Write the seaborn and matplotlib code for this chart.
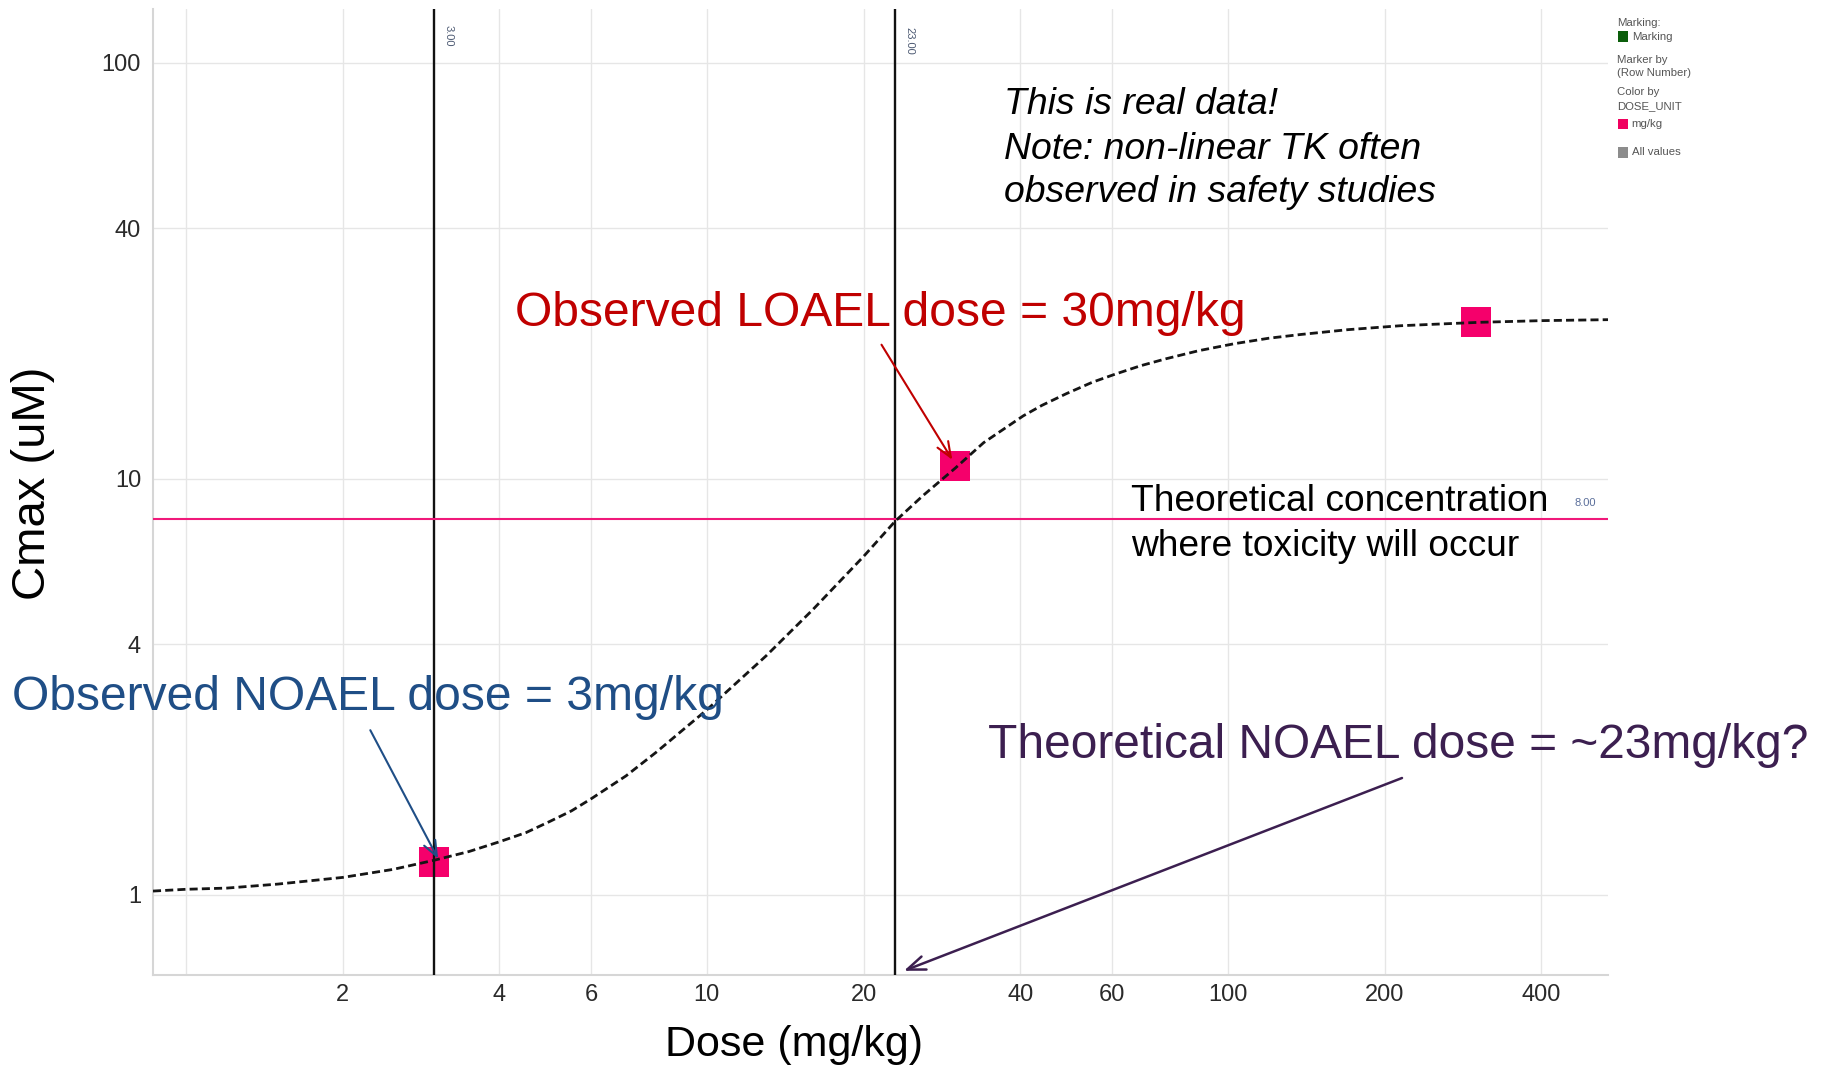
import matplotlib
matplotlib.use("Agg")
import matplotlib.pyplot as plt
from matplotlib.ticker import NullLocator, FixedLocator, FixedFormatter
from matplotlib.patches import Rectangle
import seaborn as sns
import pandas as pd

# ---------------- data ----------------
curve_dose = [0.865, 1.0, 1.2, 1.5, 2, 2.5, 3, 3.5, 4, 4.5, 5, 5.5, 6, 7, 8,
              10, 13, 16, 20, 23, 26, 30, 34, 40.5, 44, 49, 55, 61, 68, 76,
              88, 103, 120, 138, 170, 214, 250, 305, 400, 537]
curve_cmax = [1.02, 1.03, 1.037, 1.06, 1.10, 1.15, 1.21, 1.27, 1.34, 1.41,
              1.50, 1.59, 1.70, 1.93, 2.20, 2.78, 3.75, 4.85, 6.5, 7.9, 9.1,
              10.6, 12.2, 14.15, 15.0, 16.0, 17.05, 17.85, 18.67, 19.4,
              20.3, 21.1, 21.75, 22.2, 22.8, 23.3, 23.5, 23.75, 23.97, 24.1]

obs_dose = [3, 30, 300]
obs_cmax = [1.2, 10.7, 23.8]

ref_doses = [3, 23]
ref_labels = ["3.00", "23.00"]
tox_conc = 8
tox_label = "8.00"

x_ticks = [1, 2, 4, 6, 10, 20, 40, 60, 100, 200, 400]
x_tick_labels = ["", "2", "4", "6", "10", "20", "40", "60", "100", "200", "400"]
y_ticks = [1, 4, 10, 40, 100]
y_tick_labels = ["1", "4", "10", "40", "100"]

legend_lines = ["Marking:", "Marking", "Marker by", "(Row Number)",
                "Color by", "DOSE_UNIT", "mg/kg", "All values"]

# ---------------- style ----------------
sns.set_style("white")
plt.rcParams["font.family"] = ["Liberation Sans", "DejaVu Sans"]

W, H = 1826, 1068
fig = plt.figure(figsize=(W / 100, H / 100), dpi=100)
fig.patch.set_facecolor("white")


def fx(px):
    return px / W


def fy(py):
    return 1 - py / H


ax = fig.add_axes([fx(153), fy(975), (1608 - 153) / W, (975 - 9) / H])

curve_df = pd.DataFrame({"dose": curve_dose, "cmax": curve_cmax})
obs_df = pd.DataFrame({"dose": obs_dose, "cmax": obs_cmax})

sns.scatterplot(data=obs_df, x="dose", y="cmax", ax=ax, marker="s", s=440,
                color="#F5006B", edgecolor="#F5006B", linewidth=0, zorder=2.5,
                legend=False)
sns.lineplot(data=curve_df, x="dose", y="cmax", ax=ax, color="#151515",
             linewidth=2.0, linestyle=(0, (2.9, 1.5)), zorder=4, legend=False)

for d in ref_doses:
    ax.axvline(d, color="#111111", lw=1.7, zorder=3)
ax.axhline(tox_conc, color="#F0197A", lw=1.5, zorder=3)

ax.set_xscale("log")
ax.set_yscale("log")
ax.set_xlim(0.865, 537)
ax.set_ylim(0.641, 134.5)

ax.xaxis.set_major_locator(FixedLocator(x_ticks))
ax.xaxis.set_major_formatter(FixedFormatter(x_tick_labels))
ax.yaxis.set_major_locator(FixedLocator(y_ticks))
ax.yaxis.set_major_formatter(FixedFormatter(y_tick_labels))
ax.xaxis.set_minor_locator(NullLocator())
ax.yaxis.set_minor_locator(NullLocator())

ax.grid(True, which="major", color="#e6e6e6", lw=1.0)
ax.set_axisbelow(True)
ax.tick_params(axis="both", length=0, labelsize=17, colors="#2a2a2a")
ax.tick_params(axis="x", pad=6.8)
ax.tick_params(axis="y", pad=8.6)
for side in ["top", "right"]:
    ax.spines[side].set_visible(False)
for side in ["left", "bottom"]:
    ax.spines[side].set_color("#d6d6d6")
    ax.spines[side].set_linewidth(1.5)
ax.set_xlabel("")
ax.set_ylabel("")

# small reference-line labels
for d, lab, dy in zip(ref_doses, ref_labels, [-19.5, -23]):
    ax.annotate(lab, xy=(d, 1), xycoords=("data", "axes fraction"),
                xytext=(10, dy), textcoords="offset points", rotation=270,
                ha="center", va="center", fontsize=8, color="#4d5a73")
ax.annotate(tox_label, xy=(1, tox_conc), xycoords=("axes fraction", "data"),
            xytext=(-16.5, 11.5), textcoords="offset points",
            ha="center", va="center", fontsize=8, color="#5a6e9a")

# axis titles
fig.text(fx(32.6), fy(483), "Cmax (uM)", rotation=90, ha="center",
         va="center", fontsize=34, color="black")
fig.text(fx(794), fy(1044.6), "Dose (mg/kg)", ha="center", va="center",
         fontsize=31, color="black")

# annotation texts
fig.text(fx(514.7), fy(325.7), "Observed LOAEL dose = 30mg/kg", ha="left",
         va="baseline", fontsize=34.6, color="#C00000")
fig.text(fx(11.6), fy(710), "Observed NOAEL dose = 3mg/kg", ha="left",
         va="baseline", fontsize=34.6, color="#1F4E86")
fig.text(fx(987.5), fy(757.5), "Theoretical NOAEL dose = ~23mg/kg?",
         ha="left", va="baseline", fontsize=34.5, color="#3C1F50")
for txt, yb in zip(["Theoretical concentration", "where toxicity will occur"],
                   [510.6, 556.0]):
    fig.text(fx(1130.8), fy(yb), txt, ha="left", va="baseline",
             fontsize=26.7, color="black")
for txt, yb in zip(["This is real data!", "Note: non-linear TK often",
                    "observed in safety studies"], [113.5, 159.0, 202.0]):
    fig.text(fx(1003.8), fy(yb), txt, ha="left", va="baseline",
             fontsize=26.9, style="italic", color="black")

# arrows
ax.annotate("", xy=(29.6, 11.1), xycoords="data",
            xytext=(fx(881.5), fy(344.7)), textcoords="figure fraction",
            arrowprops=dict(arrowstyle="->,head_length=1.1,head_width=0.45",
                            color="#C00000", lw=1.5, shrinkA=0, shrinkB=0),
            zorder=6)
ax.annotate("", xy=(3.05, 1.22), xycoords="data",
            xytext=(fx(370.3), fy(730.2)), textcoords="figure fraction",
            arrowprops=dict(arrowstyle="->,head_length=1.1,head_width=0.45",
                            color="#1F4E86", lw=1.5, shrinkA=0, shrinkB=0),
            zorder=6)
ax.annotate("", xy=(23.9, 0.656), xycoords="data",
            xytext=(fx(1402), fy(778)), textcoords="figure fraction",
            arrowprops=dict(arrowstyle="->,head_length=1.3,head_width=0.5",
                            color="#3C1F50", lw=1.8, shrinkA=0, shrinkB=0),
            annotation_clip=False, zorder=6)

# legend (top right)
leg_color = "#555555"
leg_y = [22.7, 36.7, 60.0, 72.7, 92.3, 106.0, 124.0, 152.3]
leg_x = [1616.7, 1631.7, 1616.7, 1616.7, 1616.7, 1616.7, 1631.7, 1632.0]
for txt, x, y in zip(legend_lines, leg_x, leg_y):
    fig.text(fx(x), fy(y), txt, ha="left", va="center", fontsize=8.2,
             color=leg_color)
for y, c in zip([36.7, 124.0, 152.3], ["#0b5e0b", "#F0005F", "#8c8c8c"]):
    fig.add_artist(Rectangle((fx(1617.7), fy(y + 5.3)), 10.6 / W, 10.6 / H,
                             transform=fig.transFigure, facecolor=c,
                             edgecolor="none"))

fig.savefig("out.png", dpi=100, facecolor="white")
